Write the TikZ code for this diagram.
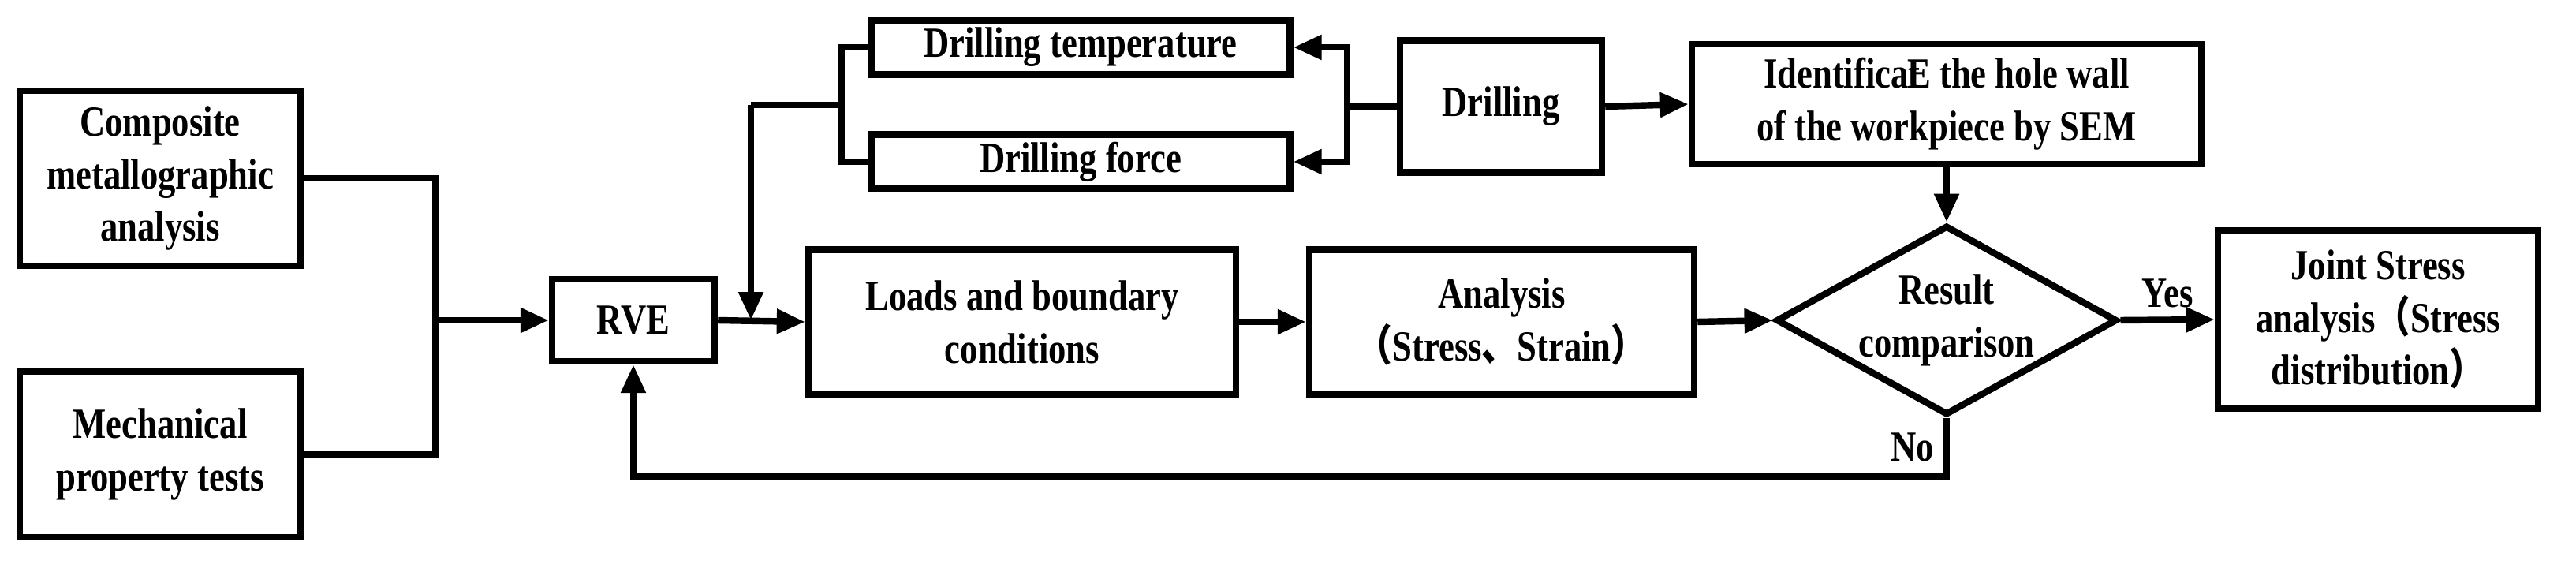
\documentclass[tikz,border=0pt]{standalone}
\usepackage{fontspec}
\setmainfont[FakeStretch=0.82]{Liberation Serif}
\newfontfamily\cjk[FakeStretch=0.82]{Noto Sans CJK SC}
\usetikzlibrary{arrows.meta,shapes.geometric}

\begin{document}
\begin{tikzpicture}[
    box/.style={draw, line width=2.4pt, align=center, inner sep=2pt,
        font=\fontsize{15.5}{19}\selectfont\bfseries},
    dec/.style={draw, diamond, aspect=1.8, line width=2.4pt, align=center, inner sep=0pt,
        minimum width=4.17cm, minimum height=2.29cm, font=\fontsize{15.5}{19}\selectfont\bfseries},
    line/.style={line width=2.4pt},
    arr/.style={line width=2.4pt, -{Triangle[length=0.36cm,width=0.3cm]}},
    lab/.style={font=\fontsize{15.5}{19}\selectfont\bfseries}
]
\useasboundingbox (0,0) rectangle (32.66,-7.19);

% boxes
\node[box, minimum width=3.56cm, minimum height=2.22cm] (comp) at (2.03,-2.26) {Composite\\metallographic\\analysis};
\node[box, minimum width=3.56cm, minimum height=2.10cm] (mech) at (2.03,-5.76) {Mechanical\\property tests};
\node[box, minimum width=2.06cm, minimum height=1.04cm] (rve) at (8.03,-4.06) {RVE};
\node[box, minimum width=5.42cm, minimum height=1.83cm] (load) at (12.96,-4.08) {Loads and boundary\\conditions};
\node[box, minimum width=4.88cm, minimum height=1.83cm] (ana) at (19.04,-4.08) {Analysis\\{\cjk （}Stress{\cjk 、}Strain{\cjk ）}};
\node[dec] (res) at (24.68,-4.06) {Result\\comparison};
\node[box, minimum width=4.06cm, minimum height=2.25cm] (joint) at (30.15,-4.05) {Joint Stress\\analysis{\cjk （}Stress\\distribution{\cjk ）}};
\node[box, minimum width=5.31cm, minimum height=0.69cm] (temp) at (13.70,-0.60) {Drilling temperature};
\node[box, minimum width=5.31cm, minimum height=0.69cm] (force) at (13.70,-2.05) {Drilling force};
\node[box, minimum width=2.56cm, minimum height=1.67cm] (drill) at (19.03,-1.35) {Drilling};
\node[box, minimum width=6.46cm, minimum height=1.52cm] (ident) at (24.68,-1.32) {Identificat\kern-0.3emE the hole wall\\of the workpiece by SEM};

% junction points
\coordinate (j1) at (5.52,-4.06);
\coordinate (j2) at (9.52,-4.06);
\coordinate (j3) at (9.52,-1.33);
\coordinate (j4) at (10.67,-1.33);
\coordinate (j5) at (17.08,-1.35);
\coordinate (j6) at (24.68,-6.04);

% connectors
\draw[line] (comp.east) -| (j1) |- (mech.east);
\draw[arr] (j1) -- (rve.west);
\draw[arr] (rve.east) -- (load.west);
\draw[line] (j3) -- (j4);
\draw[line] (temp.west) -| (j4) |- (force.west);
\draw[arr] (j3) -- (j2);
\draw[line] (drill.west) -- (j5);
\draw[arr] (j5) |- (temp.east);
\draw[arr] (j5) |- (force.east);
\draw[arr] (drill.east) -- (ident.west);
\draw[arr] (ident.south) -- (res.north);
\draw[arr] (load.east) -- (ana.west);
\draw[arr] (ana.east) -- (res.west);
\draw[arr] (res.east) -- node[lab, above] {Yes} (joint.west);
\draw[arr] (res.south) -- node[lab, left, pos=0.5] {No} (j6) -| (rve.south);
\end{tikzpicture}
\end{document}
